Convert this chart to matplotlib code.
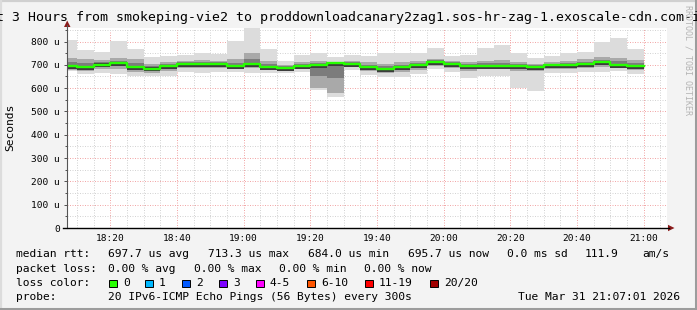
#!/usr/bin/env python3

import matplotlib
matplotlib.use('Agg')
import matplotlib.pyplot as plt
from matplotlib.lines import Line2D
from matplotlib.patches import Polygon, Rectangle
from matplotlib.ticker import MultipleLocator, FuncFormatter

W, H = 697, 310
MONO = 'DejaVu Sans Mono'

title = ('Last 3 Hours from smokeping-vie2 to '
         'proddownloadcanary2zag1.sos-hr-zag-1.exoscale-cdn.com-ipv6')

# start of each 5 minute step, minutes after 18:00
step_start = [5 + 5 * i for i in range(35)]

# round trip times in microseconds, per step
rtt_min = [672, 660, 663, 660, 651, 651, 653, 670, 667, 670, 670, 666, 666, 663, 670, 591, 563, 677,
           656, 649, 649, 659, 680, 670, 644, 653, 653, 599, 589, 667, 667, 670, 670, 673, 659]
rtt_q1 = [678, 675, 680, 682, 670, 665, 675, 685, 685, 688, 682, 685, 678, 672, 682, 600, 580, 690,
          672, 665, 668, 678, 695, 685, 675, 680, 680, 675, 672, 682, 684, 688, 690, 685, 678]
rtt_med = [694, 691, 701, 706, 691, 684, 696, 703, 703, 703, 694, 703, 691, 686, 696, 700, 706, 703,
           690, 681, 690, 699, 713.3, 703, 696, 696, 696, 694, 691, 699, 699, 703, 710, 699, 695.7]
rtt_q3 = [730, 725, 720, 730, 725, 705, 712, 718, 722, 718, 725, 750, 715, 700, 712, 715, 712, 718,
          712, 705, 710, 715, 725, 718, 712, 718, 720, 710, 705, 712, 715, 725, 735, 730, 720]
rtt_max = [806, 763, 756, 801, 767, 734, 737, 741, 751, 746, 801, 860, 767, 716, 741, 751, 734, 741,
           737, 749, 749, 749, 773, 739, 744, 773, 784, 749, 730, 739, 749, 756, 799, 816, 767]

loss_labels = ['0', '1', '2', '3', '4-5', '6-10', '11-19', '20/20']
loss_colors = ['#26ff00', '#00b8ff', '#0059ff', '#7e00ff', '#ff00ff', '#ff5500', '#ff0000', '#a10000']
loss_box_x = [109, 145, 182, 219, 256, 307, 365, 430]


def fx(x):
    return x / W


def fy(y):
    return 1 - y / H


fig = plt.figure(figsize=(W / 100, H / 100), dpi=100)
fig.patch.set_facecolor('#f3f3f3')

ax = fig.add_axes([fx(67), fy(228), 600 / W, 200 / H])
ax.set_facecolor('white')
for s in ax.spines.values():
    s.set_visible(False)
ax.set_xlim(7 + 1 / 60, 187 + 1 / 60)
ax.set_ylim(0, 858)

# smoke
ax.bar(step_start, [b - a for a, b in zip(rtt_min, rtt_max)], bottom=rtt_min, width=5,
       align='edge', color='#dcdcdc', linewidth=0, antialiased=False, zorder=2)
ax.bar(step_start, [b - a for a, b in zip(rtt_q1, rtt_q3)], bottom=rtt_q1, width=5,
       align='edge', color='#a9a9a9', linewidth=0, antialiased=False, zorder=3)
inner_lo = [(a + m) / 2 for a, m in zip(rtt_q1, rtt_med)]
inner_hi = [(b + m) / 2 for b, m in zip(rtt_q3, rtt_med)]
ax.bar(step_start, [b - a for a, b in zip(inner_lo, inner_hi)], bottom=inner_lo, width=5,
       align='edge', color='#7c7c7c', linewidth=0, antialiased=False, zorder=4)
ax.bar(step_start, 17, bottom=[m - 12 for m in rtt_med], width=5,
       align='edge', color='#3c3c3c', linewidth=0, antialiased=False, zorder=5)

# median
ax.step(step_start + [step_start[-1] + 5], rtt_med + [rtt_med[-1]], where='post',
        color='#26ff00', lw=1.7, zorder=6)

ax.xaxis.set_major_locator(MultipleLocator(20))
ax.xaxis.set_minor_locator(MultipleLocator(5))
ax.yaxis.set_major_locator(MultipleLocator(100))
ax.yaxis.set_minor_locator(MultipleLocator(50))
ax.xaxis.set_major_formatter(FuncFormatter(lambda m, p: '%d:%02d' % (18 + int(m) // 60, int(m) % 60)))
ax.yaxis.set_major_formatter(FuncFormatter(lambda v, p: '0' if v == 0 else '%d u' % v))
ax.grid(which='minor', color='#d4d4d4', linestyle=(0, (1, 1.5)), linewidth=0.72)
ax.grid(which='major', color='#f2a8a8', linestyle=(0, (1, 1.5)), linewidth=0.72)
ax.set_axisbelow(True)
ax.tick_params(axis='x', which='both', length=0, pad=4, labelsize=6.8, labelcolor='black')
ax.tick_params(axis='y', which='major', length=2.2, width=0.72, color='#555555', pad=3,
               labelsize=6.8, labelcolor='black')
ax.tick_params(axis='y', which='minor', length=1.4, width=0.72, color='#555555')
for lab in ax.get_xticklabels() + ax.get_yticklabels():
    lab.set_family(MONO)

# axis lines and arrows
tf = fig.transFigure
fig.add_artist(Line2D([fx(67), fx(67)], [fy(228), fy(25)], transform=tf, color='#555555', lw=0.8))
fig.add_artist(Line2D([fx(63), fx(669)], [fy(228), fy(228)], transform=tf, color='black', lw=1))
fig.add_artist(Polygon([(fx(64), fy(27)), (fx(70.5), fy(27)), (fx(67.2), fy(20.5))], closed=True,
                       transform=tf, color='#8b1a1a', lw=0))
fig.add_artist(Polygon([(fx(668), fy(224.8)), (fx(668), fy(231.2)), (fx(674.5), fy(228))], closed=True,
                       transform=tf, color='#8b1a1a', lw=0))

fig.text(fx(348.5), fy(18), title, ha='center', va='center', fontsize=9.5, family=MONO)
fig.text(fx(10), fy(127), 'Seconds', rotation=90, ha='center', va='center', fontsize=8.1, family=MONO)
fig.text(fx(688), fy(60), 'RRDTOOL / TOBI OETIKER', rotation=270, ha='center', va='center',
         fontsize=6, family=MONO, color='#b4b4b4')

# legend lines
fs = 8.1
rows = [
    (254, [(16.4, 'median rtt:'), (107.6, '697.7 us avg'), (207.6, '713.3 us max'),
           (307.6, '684.0 us min'), (407.6, '695.7 us now'), (507, '0.0 ms sd'),
           (585, '111.9'), (642, 'am/s')]),
    (269, [(16.4, 'packet loss:'), (107.6, '0.00 % avg'), (194, '0.00 % max'),
           (279, '0.00 % min'), (364, '0.00 % now')]),
    (283, [(16.4, 'loss color:')]),
    (297, [(16.4, 'probe:'), (107.6, '20 IPv6-ICMP Echo Pings (56 Bytes) every 300s')]),
]
for y, items in rows:
    for x, s in items:
        fig.text(fx(x), fy(y), s, ha='left', va='center', fontsize=fs, family=MONO)
fig.text(fx(680), fy(297), 'Tue Mar 31 21:07:01 2026', ha='right', va='center', fontsize=fs, family=MONO)

for bx, c, lab in zip(loss_box_x, loss_colors, loss_labels):
    fig.add_artist(Rectangle((fx(bx), fy(287)), 7.5 / W, 7.5 / H, transform=tf,
                             facecolor=c, edgecolor='black', lw=0.7))
    fig.text(fx(bx + 14), fy(283), lab, ha='left', va='center', fontsize=fs, family=MONO)

# frame
fig.add_artist(Line2D([0, 1], [fy(0.8), fy(0.8)], transform=tf, color='#d0d0d0', lw=1.6))
fig.add_artist(Line2D([fx(0.8), fx(0.8)], [0, 1], transform=tf, color='#dcdcdc', lw=1.6))
fig.add_artist(Line2D([fx(695.5), fx(695.5)], [0, 1], transform=tf, color='#9c9c9c', lw=2.2))
fig.add_artist(Line2D([0, 1], [fy(308.5), fy(308.5)], transform=tf, color='#9c9c9c', lw=2.2))

fig.savefig('out.png', dpi=100, facecolor=fig.get_facecolor())
plt.close(fig)
